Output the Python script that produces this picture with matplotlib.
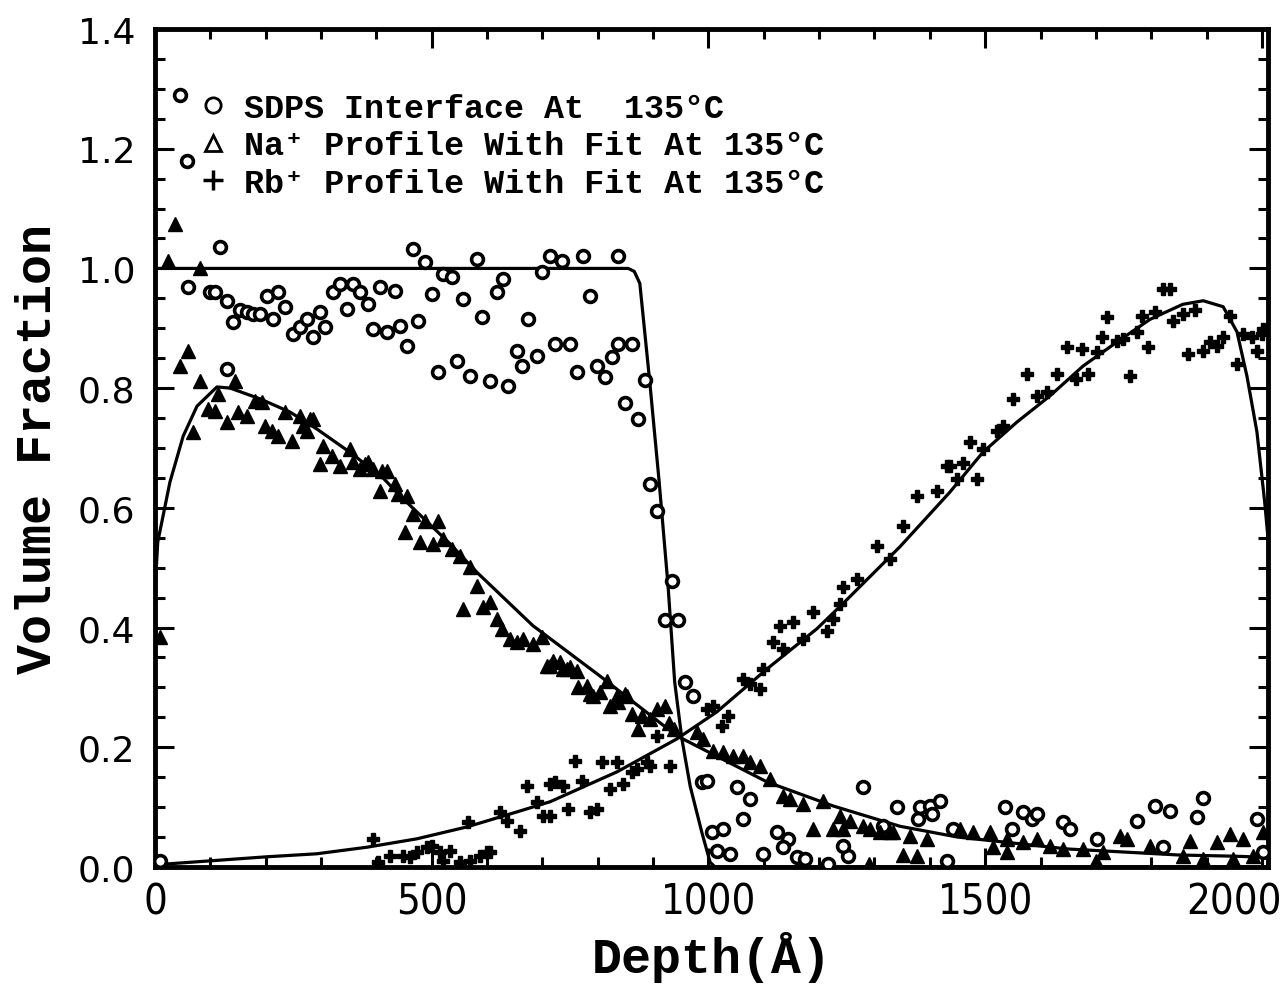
import numpy as np
import matplotlib
matplotlib.use("Agg")
import matplotlib.pyplot as plt
from matplotlib.lines import Line2D
from matplotlib.ticker import MultipleLocator, FormatStrFormatter
from matplotlib.transforms import ScaledTranslation

# SDPS interface (open circles)
sdps_x = [9, 45, 58, 60, 118, 99, 108, 130, 141, 154, 166, 177, 190, 202, 222, 213, 235, 249, 262, 275,
          285, 298, 307, 322, 334, 347, 358, 370, 385, 406, 434, 394, 419, 443, 455, 475, 466, 488, 500, 520,
          536, 557, 582, 590, 618, 629, 674, 699, 654, 690, 663, 511, 546, 569, 605, 638, 130, 714, 735, 773,
          836, 786, 723, 750, 762, 799, 813, 826, 836, 862, 849, 873, 885, 894, 907, 934, 921, 945, 957, 972,
          988, 997, 1051, 1075, 1062, 1006, 1026, 1015, 1039, 1098, 1124, 1144, 1135, 1160, 1174, 1279, 1340,
          1316, 1252, 1243, 1216, 1382, 1400, 1418, 1378, 1404, 1442, 1431, 1536, 1568, 1584, 1593, 1548,
          1641, 1653, 1702, 1774, 1807, 1834, 1882, 1894, 1821, 1991, 2002]
sdps_y = [0.01, 1.29, 1.18, 0.969, 1.035, 0.96, 0.96, 0.946, 0.91, 0.93, 0.927, 0.924, 0.924, 0.954, 0.96,
          0.915, 0.935, 0.89, 0.902, 0.915, 0.885, 0.927, 0.902, 0.96, 0.974, 0.932, 0.974, 0.96, 0.94, 0.969,
          0.962, 0.899, 0.894, 0.904, 0.87, 0.912, 1.032, 1.01, 0.957, 0.99, 0.985, 0.949, 1.016, 0.919, 0.96,
          0.982, 0.915, 0.994, 0.862, 0.854, 0.837, 0.827, 0.845, 0.82, 0.812, 0.804, 0.832, 1.02, 1.012, 1.02,
          1.02, 0.954, 0.874, 0.874, 0.827, 0.837, 0.819, 0.852, 0.874, 0.874, 0.775, 0.748, 0.814, 0.64, 0.595,
          0.478, 0.413, 0.413, 0.309, 0.286, 0.142, 0.144, 0.134, 0.114, 0.08, 0.058, 0.063, 0.027, 0.022,
          0.022, 0.058, 0.047, 0.033, 0.017, 0.013, 0.134, 0.1, 0.068, 0.018, 0.035, 0.005, 0.1, 0.102, 0.11,
          0.08, 0.089, 0.063, 0.01, 0.1, 0.092, 0.08, 0.089, 0.063, 0.075, 0.063, 0.047, 0.077, 0.102, 0.094,
          0.084, 0.115, 0.033, 0.08, 0.025]

# Na+ profile (triangles)
na_x = [9, 23, 36, 81, 60, 45, 81, 145, 114, 96, 108, 69, 130, 150, 166, 181, 193, 199, 211, 222, 235, 262,
        285, 247, 275, 298, 304, 320, 334, 352, 358, 370, 385, 394, 419, 406, 434, 455, 452, 466, 488, 511,
        479, 502, 520, 536, 551, 569, 582, 268, 280, 379, 410, 439, 556, 593, 605, 618, 627, 641, 654, 665,
        683, 699, 708, 714, 732, 744, 762, 764, 786, 804, 817, 835, 849, 719, 737, 750, 780, 791, 822, 836,
        853, 862, 873, 880, 894, 907, 921, 928, 937, 979, 990, 1008, 1026, 1044, 1062, 1075, 1093, 1111, 1135,
        1147, 1171, 1207, 1189, 1225, 1243, 1237, 1256, 1279, 1310, 1333, 1292, 1328, 1364, 1395, 1455, 1478,
        1508, 1539, 1568, 1593, 1617, 1641, 1352, 1377, 1514, 1539, 1743, 1756, 1798, 1870, 1919, 1942, 1966,
        2002, 1677, 1713, 1857, 1894, 1948, 1984, 1290, 1700]
na_y = [0.384, 1.012, 1.075, 1.0, 0.862, 0.837, 0.812, 0.812, 0.79, 0.765, 0.762, 0.727, 0.743, 0.76, 0.753,
        0.778, 0.777, 0.737, 0.728, 0.72, 0.76, 0.753, 0.748, 0.712, 0.728, 0.673, 0.703, 0.687, 0.67, 0.698,
        0.677, 0.665, 0.677, 0.665, 0.662, 0.628, 0.64, 0.62, 0.56, 0.59, 0.578, 0.578, 0.543, 0.54, 0.548,
        0.531, 0.52, 0.501, 0.469, 0.737, 0.748, 0.673, 0.662, 0.623, 0.431, 0.434, 0.443, 0.414, 0.398, 0.381,
        0.376, 0.381, 0.373, 0.384, 0.336, 0.336, 0.342, 0.331, 0.327, 0.301, 0.289, 0.292, 0.311, 0.286,
        0.289, 0.344, 0.331, 0.334, 0.302, 0.286, 0.269, 0.276, 0.286, 0.256, 0.231, 0.252, 0.247, 0.264,
        0.269, 0.24, 0.231, 0.226, 0.214, 0.194, 0.192, 0.185, 0.185, 0.175, 0.169, 0.147, 0.119, 0.114,
        0.105, 0.11, 0.063, 0.063, 0.063, 0.085, 0.077, 0.068, 0.058, 0.058, 0.063, 0.058, 0.052, 0.047,
        0.063, 0.058, 0.058, 0.047, 0.042, 0.047, 0.035, 0.03, 0.02, 0.018, 0.033, 0.025, 0.052, 0.047, 0.035,
        0.043, 0.042, 0.055, 0.047, 0.058, 0.03, 0.025, 0.018, 0.013, 0.013, 0.018, 0.005, 0.01]

# Rb+ profile (plus)
rb_x = [394, 403, 425, 448, 461, 473, 491, 500, 515, 533, 520, 551, 569, 587, 600, 605, 565, 623, 636, 659,
        672, 690, 701, 714, 714, 723, 737, 746, 759, 771, 786, 799, 808, 822, 835, 846, 862, 871, 889, 894,
        930, 907, 997, 1008, 1024, 1035, 1062, 1075, 1093, 1098, 1117, 1129, 1135, 1153, 1171, 1189, 1214,
        1225, 1238, 1243, 1268, 1304, 1328, 1351, 1377, 1413, 1431,
        1436, 1449, 1460, 1472, 1485, 1496, 1521, 1532, 1550, 1575, 1593, 1611, 1629, 1647, 1665, 1675, 1686,
        1702, 1711, 1720, 1738, 1749, 1762, 1774, 1783, 1794, 1807, 1821, 1834, 1839, 1857, 1866, 1879, 1894,
        1906, 1919, 1930, 1943, 1955, 1966, 1982, 1991, 2000, 2002]
rb_y = [0.047, 0.008, 0.018, 0.018, 0.017, 0.025, 0.033, 0.035, 0.025, 0.027, 0.01, 0.008, 0.01, 0.018,
        0.025, 0.025, 0.075, 0.092, 0.077, 0.06, 0.135, 0.109, 0.085, 0.139, 0.085, 0.142, 0.135, 0.097,
        0.177, 0.144, 0.092, 0.097, 0.175, 0.13, 0.175, 0.139, 0.159, 0.164, 0.175, 0.169, 0.169, 0.219,
        0.264, 0.269, 0.236, 0.252, 0.314, 0.306, 0.297, 0.331, 0.376, 0.403, 0.364, 0.409, 0.381, 0.426,
        0.394, 0.414, 0.439, 0.468, 0.481, 0.536, 0.515, 0.57, 0.62, 0.628, 0.67,
        0.67, 0.648, 0.675, 0.71, 0.648, 0.698, 0.729, 0.737, 0.782, 0.824, 0.787, 0.794, 0.824, 0.869, 0.815,
        0.865, 0.824, 0.861, 0.886, 0.919, 0.879, 0.882, 0.82, 0.894, 0.92, 0.869, 0.927, 0.966, 0.966, 0.912,
        0.924, 0.857, 0.93, 0.862, 0.877, 0.87, 0.885, 0.92, 0.84, 0.89, 0.885, 0.862, 0.89, 0.899]

# fit curves
sdps_fit_x = [0, 200, 400, 600, 800, 855, 866, 876, 894, 911, 927, 939, 952, 967, 988, 1003, 1012, 1100, 1500, 2011]
sdps_fit_y = [1.0, 1.0, 1.0, 1.0, 1.0, 1.0, 0.995, 0.975, 0.81, 0.643, 0.47, 0.309, 0.214, 0.135, 0.058, 0.008,
              0.0, 0.0, 0.0, 0.0]
na_fit_x = [0, 5, 27, 51, 76, 112, 136, 190, 244, 292, 352, 412, 443, 533, 582, 683, 804, 943, 1015,
            1106, 1225, 1346, 1450, 1550, 1650, 1750, 1850, 1950, 2011]
na_fit_y = [0.46, 0.543, 0.643, 0.72, 0.77, 0.802, 0.80, 0.782, 0.76, 0.732, 0.693, 0.65, 0.62, 0.54,
            0.492, 0.403, 0.319, 0.219, 0.185, 0.142, 0.102, 0.068, 0.05, 0.04, 0.03, 0.025, 0.02, 0.018, 0.016]
rb_fit_x = [0, 21, 202, 292, 383, 473, 564, 654, 714, 835, 943, 1015, 1106, 1196, 1243, 1346, 1436, 1496,
            1557, 1617, 1677, 1738, 1798, 1857, 1894, 1930, 1955, 1973, 1991, 2005, 2011]
rb_fit_y = [0.003, 0.005, 0.017, 0.022, 0.033, 0.047, 0.067, 0.092, 0.109, 0.159, 0.214, 0.259, 0.331, 0.398,
            0.44, 0.535, 0.626, 0.693, 0.743, 0.787, 0.837, 0.877, 0.915, 0.94, 0.946, 0.936, 0.894, 0.82,
            0.727, 0.61, 0.55]

legend_labels = ["SDPS Interface At  135°C",
                 "Na⁺ Profile With Fit At 135°C",
                 "Rb⁺ Profile With Fit At 135°C"]

mono = ["Liberation Mono", "DejaVu Sans Mono"]

fig = plt.figure(figsize=(12.83, 9.87), dpi=100)
ax = fig.add_axes([0.1208, 0.1206, 0.8675, 0.849])

ax.plot(sdps_fit_x, sdps_fit_y, color="black", lw=2.3, zorder=2)
ax.plot(na_fit_x, na_fit_y, color="black", lw=2.3, zorder=2)
ax.plot(rb_fit_x, rb_fit_y, color="black", lw=2.3, zorder=2)

ax.plot(sdps_x, sdps_y, ls="none", marker="o", ms=8.5, mfc="white", mec="black", mew=2.6, zorder=3)
ax.plot(na_x, na_y, ls="none", marker="^", ms=10.5, color="black", zorder=3)
ax.plot(rb_x, rb_y, ls="none", marker="P", ms=9, color="black", zorder=3)

ax.set_xlim(0, 2011)
ax.set_ylim(0, 1.4)
ax.set_xticks([0, 500, 1000, 1500, 2000])
ax.xaxis.set_minor_locator(MultipleLocator(100))
ax.yaxis.set_major_locator(MultipleLocator(0.2))
ax.yaxis.set_minor_locator(MultipleLocator(0.05))
ax.yaxis.set_major_formatter(FormatStrFormatter("%.1f"))
ax.tick_params(which="both", direction="in", top=True, right=True, width=2.2, color="black")
ax.tick_params(which="major", length=14)
ax.tick_params(which="minor", length=7)
ax.tick_params(axis="x", pad=10)
ax.tick_params(axis="y", pad=14)
xlabs = ax.get_xticklabels()
for lab in xlabs:
    lab.set_family("DejaVu Sans")
    lab.set_stretch("condensed")
    lab.set_fontsize(30)
xlabs[-1].set_horizontalalignment("right")
xlabs[-1].set_transform(xlabs[-1].get_transform() + ScaledTranslation(0.2, 0, fig.dpi_scale_trans))
for lab in ax.get_yticklabels():
    lab.set_family("DejaVu Sans")
    lab.set_fontsize(26)
for sp in ax.spines.values():
    sp.set_linewidth(3.5)

ax.set_xlabel("Depth(Å)", family=mono, fontweight="bold", fontsize=36, labelpad=6)
ax.set_ylabel("Volume Fraction", family=mono, fontweight="bold", fontsize=36, labelpad=12)

handles = [Line2D([], [], ls="none", marker="o", ms=11, mfc="white", mec="black", mew=2),
           Line2D([], [], ls="none", marker="^", ms=12, mfc="white", mec="black", mew=2),
           Line2D([], [], ls="none", marker="+", ms=14, color="black", mew=2.5)]
ax.legend(handles, legend_labels, loc="upper left", bbox_to_anchor=(0.025, 0.94), frameon=False,
          prop={"family": mono, "weight": "bold", "size": 24}, handlelength=1.0, handletextpad=0.45,
          labelspacing=0.2, borderaxespad=0)

fig.savefig("out.png", dpi=100)
